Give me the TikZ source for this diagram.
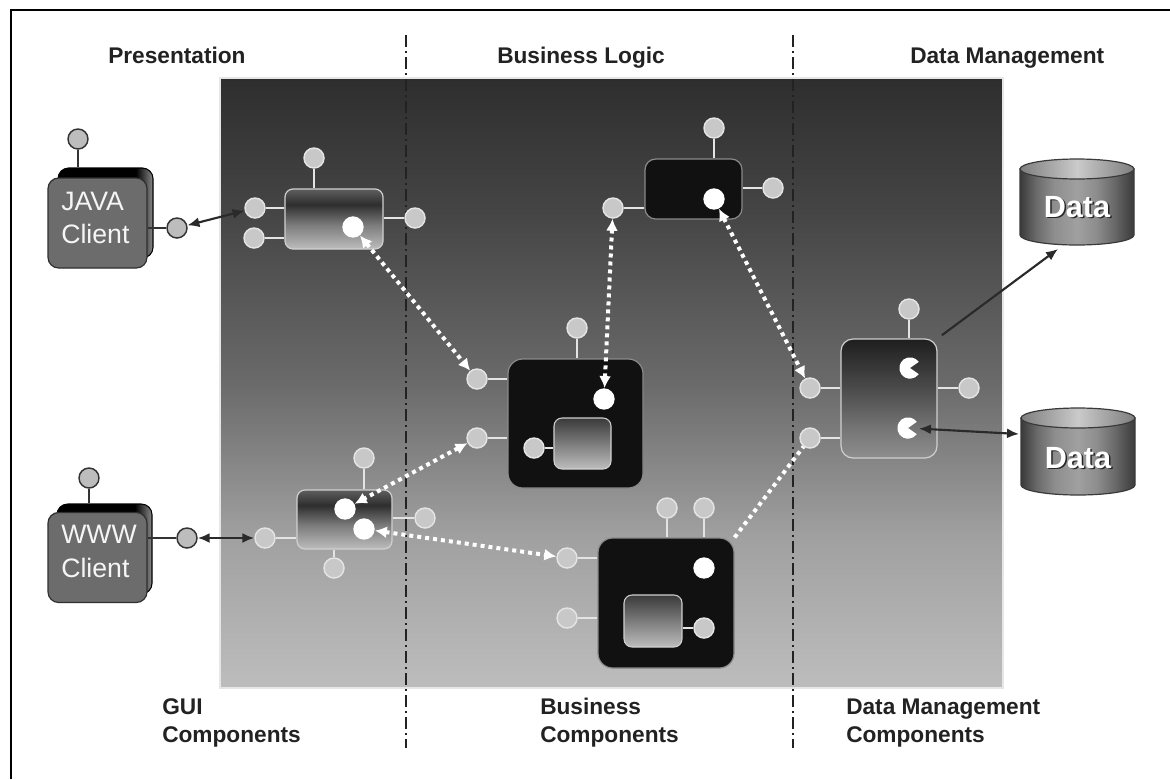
\documentclass[tikz,border=0pt]{standalone}
\usepackage{fontspec}
\setmainfont{Liberation Sans}
\usetikzlibrary{arrows.meta}
\definecolor{ptop}{HTML}{2E2E2E}
\definecolor{pm0}{HTML}{454545}
\definecolor{pm1}{HTML}{6A6A6A}
\definecolor{pm2}{HTML}{A0A0A0}
\definecolor{pbot}{HTML}{BDBDBD}
\definecolor{gtop}{HTML}{5E5E5E}
\definecolor{gdark}{HTML}{2E2E2E}
\definecolor{gmid}{HTML}{7C7C7C}
\definecolor{gbot}{HTML}{BDBDBD}
\definecolor{dm0}{HTML}{1E1E1E}
\definecolor{dm1}{HTML}{3A3A3A}
\definecolor{dm2}{HTML}{555555}
\definecolor{dm3}{HTML}{747474}
\definecolor{dm4}{HTML}{8E8E8E}
\definecolor{c0}{HTML}{3A3A3A}
\definecolor{c1}{HTML}{6A6A6A}
\definecolor{c2}{HTML}{8E8E8E}
\definecolor{c3}{HTML}{A0A0A0}
\definecolor{t0}{HTML}{7E7E7E}
\definecolor{t1}{HTML}{CACACA}
\definecolor{bk0}{HTML}{000000}
\definecolor{bk1}{HTML}{8A8A8A}
\definecolor{itop}{HTML}{3A3A3A}
\definecolor{ibot}{HTML}{BDBDBD}
\definecolor{pinfill}{HTML}{C8C8C8}
\definecolor{pinedge}{HTML}{E4E4E4}
\definecolor{dpinfill}{HTML}{BDBDBD}
\definecolor{dpinedge}{HTML}{333333}
\definecolor{boxedge}{HTML}{D0D0D0}
\definecolor{kfill}{HTML}{111111}
\definecolor{kedge}{HTML}{8A8A8A}
\definecolor{cardfill}{HTML}{6C6C6C}
\definecolor{cardedge}{HTML}{2F2F2F}
\definecolor{hdcol}{HTML}{222222}
\definecolor{divcol}{HTML}{222222}
\definecolor{arrowcol}{HTML}{2A2A2A}
\definecolor{panedge}{HTML}{E6E6E6}
\pgfdeclareverticalshading{panelshade}{100bp}{color(0bp)=(pbot); color(25bp)=(pbot); color(37.5bp)=(pm2); color(50bp)=(pm1); color(64bp)=(pm0); color(75bp)=(ptop); color(100bp)=(ptop)}
\pgfdeclareverticalshading{guishade}{100bp}{color(0bp)=(gbot); color(25bp)=(gbot); color(45bp)=(gmid); color(62bp)=(gdark); color(75bp)=(gtop); color(100bp)=(gtop)}
\pgfdeclareverticalshading{dmshade}{100bp}{color(0bp)=(dm4); color(25bp)=(dm4); color(38bp)=(dm3); color(50bp)=(dm2); color(62bp)=(dm1); color(75bp)=(dm0); color(100bp)=(dm0)}
\pgfdeclarehorizontalshading{cylbody}{100bp}{color(0bp)=(c0); color(25bp)=(c0); color(32bp)=(c1); color(40bp)=(c2); color(50bp)=(c3); color(58bp)=(c2); color(66bp)=(c1); color(75bp)=(c0); color(100bp)=(c0)}
\pgfdeclarehorizontalshading{cyltop}{100bp}{color(0bp)=(t0); color(25bp)=(t0); color(50bp)=(t1); color(75bp)=(t0); color(100bp)=(t0)}
\pgfdeclarehorizontalshading{backshade}{100bp}{color(0bp)=(bk0); color(25bp)=(bk0); color(66bp)=(bk0); color(75bp)=(bk1); color(100bp)=(bk1)}
\begin{document}
\begin{tikzpicture}[x=0.75pt,y=-0.75pt,
  lpin/.style={circle, fill=pinfill, draw=pinedge, line width=1.1pt, minimum size=15pt, inner sep=0pt},
  dpin/.style={circle, fill=dpinfill, draw=dpinedge, line width=1.1pt, minimum size=15pt, inner sep=0pt},
  wdot/.style={circle, fill=white, minimum size=16pt, inner sep=0pt},
  pac/.style={circle, minimum size=16pt, inner sep=0pt},
  lline/.style={draw=pinedge, line width=1.1pt},
  dline/.style={draw=dpinedge, line width=1.1pt},
  gbox/.style={rectangle, rounded corners=6pt, draw=boxedge, line width=0.9pt, shade, shading=guishade, inner sep=0pt},
  kbox/.style={rectangle, rounded corners=8pt, draw=kedge, line width=0.9pt, fill=kfill, inner sep=0pt},
  ibox/.style={rectangle, rounded corners=6pt, draw=boxedge, line width=0.8pt, top color=itop, bottom color=ibot, inner sep=0pt},
  dmbox/.style={rectangle, rounded corners=9pt, draw=boxedge, line width=0.9pt, shade, shading=dmshade, inner sep=0pt},
  backcard/.style={rectangle, rounded corners=8pt, shade, shading=backshade, draw=black, line width=0.8pt, inner sep=0pt},
  frontcard/.style={rectangle, rounded corners=8pt, fill=cardfill, draw=cardedge, line width=0.9pt, inner sep=0pt},
  warrow/.style={draw=white, line width=3pt, dash pattern=on 3pt off 3pt, {Latex[length=9pt,width=9pt]}-{Latex[length=9pt,width=9pt]}},
  wline/.style={draw=white, line width=3pt, dash pattern=on 3pt off 3pt},
  karrow/.style={draw=arrowcol, line width=1.6pt, {Latex[length=9pt,width=7.5pt]}-{Latex[length=9pt,width=7.5pt]}},
  karrowone/.style={draw=arrowcol, line width=1.6pt, -{Latex[length=9pt,width=7.5pt]}},
  divider/.style={draw=divcol, line width=1.3pt, dash pattern=on 9pt off 3pt on 1.5pt off 3pt},
  hd/.style={font=\fontsize{17}{20}\selectfont\bfseries, text=hdcol, inner sep=0pt},
  ct/.style={font=\fontsize{20}{23}\selectfont, text=white!92!gray, inner sep=0pt},
  dt/.style={font=\fontsize{23}{26}\selectfont\bfseries, inner sep=0pt}
]
\useasboundingbox (0,0) rectangle (1170,779);
\fill[white] (0,0) rectangle (1170,779);
\draw[line width=1.5pt, black] (11,779) -- (11,10) -- (1170,10);

% background panel
\shade[shading=panelshade] (220,78) rectangle (1003,688);
\draw[panedge, line width=1pt] (220,78) rectangle (1003,688);

% dividers
\draw[divider] (406,35) -- (406,748);
\draw[divider] (793,35) -- (793,748);

% headings
\node[hd, anchor=base west] (hP) at (108,63) {Presentation};
\node[hd, anchor=base west] (hB) at (497,63) {Business Logic};
\node[hd, anchor=base west] (hD) at (910,63) {Data Management};
\node[hd, anchor=base west] (lG1) at (162,714) {GUI};
\node[hd, anchor=base west] (lG2) at (162,742) {Components};
\node[hd, anchor=base west] (lB1) at (540,714) {Business};
\node[hd, anchor=base west] (lB2) at (540,742) {Components};
\node[hd, anchor=base west] (lD1) at (846,714) {Data Management};
\node[hd, anchor=base west] (lD2) at (846,742) {Components};

% JAVA client
\node[backcard, minimum width=71.25pt, minimum height=67.5pt] (jb) at (105.5,213) {};
\node[frontcard, minimum width=74.25pt, minimum height=67.5pt] (jf) at (97.5,223) {};
\node[ct, anchor=base west] (jt1) at (61,210) {JAVA};
\node[ct, anchor=base west] (jt2) at (61,243) {Client};
\node[dpin] (jtp) at (78,139) {};
\node[dpin] (jrp) at (177,228) {};
\draw[dline] (jtp) -- (jtp |- jb.north);
\draw[dline] (jrp) -- (jrp -| jf.east);

% WWW client
\node[backcard, minimum width=71.25pt, minimum height=67.5pt] (wb) at (104.5,549) {};
\node[frontcard, minimum width=74.25pt, minimum height=67.5pt] (wf) at (97.5,557.5) {};
\node[ct, anchor=base west] (wt1) at (61,543) {WWW};
\node[ct, anchor=base west] (wt2) at (61,577) {Client};
\node[dpin] (wtp) at (89,478) {};
\node[dpin] (wrp) at (187,538) {};
\draw[dline] (wtp) -- (wtp |- wb.north);
\draw[dline] (wrp) -- (wrp -| wf.east);

% GUI component 1
\node[gbox, minimum width=73.5pt, minimum height=45pt] (g1) at (334,219) {};
\node[lpin] (g1t) at (314,158) {};
\node[lpin] (g1l1) at (255,208) {};
\node[lpin] (g1l2) at (254,238) {};
\node[lpin] (g1r) at (415,218) {};
\node[wdot] (g1d) at (353,227) {};
\draw[lline] (g1t) -- (g1t |- g1.north);
\draw[lline] (g1l1) -- (g1l1 -| g1.west);
\draw[lline] (g1l2) -- (g1l2 -| g1.west);
\draw[lline] (g1r) -- (g1r -| g1.east);

% GUI component 2
\node[gbox, minimum width=71.25pt, minimum height=44.25pt] (g2) at (344.5,519.5) {};
\node[lpin] (g2t) at (364,458) {};
\node[lpin] (g2b) at (334,568) {};
\node[lpin] (g2r) at (425,518) {};
\node[lpin] (g2l) at (265,538) {};
\node[wdot] (g2d1) at (345,509) {};
\node[wdot] (g2d2) at (364,529) {};
\draw[lline] (g2t) -- (g2t |- g2.north);
\draw[lline] (g2b) -- (g2b |- g2.south);
\draw[lline] (g2r) -- (g2r -| g2.east);
\draw[lline] (g2l) -- (g2l -| g2.west);

% top business component
\node[kbox, minimum width=72.75pt, minimum height=45pt] (tb) at (693.5,189) {};
\node[lpin] (tt) at (714,128) {};
\node[lpin] (tr) at (773,188) {};
\node[lpin] (tl) at (613,208) {};
\node[wdot] (td) at (714,199) {};
\draw[lline] (tt) -- (tt |- tb.north);
\draw[lline] (tr) -- (tr -| tb.east);
\draw[lline] (tl) -- (tl -| tb.west);

% business component 1
\node[kbox, rounded corners=11pt, minimum width=101.25pt, minimum height=96.75pt] (b1) at (575.5,423.5) {};
\node[ibox, minimum width=42.75pt, minimum height=38.25pt] (b1i) at (582.5,443.5) {};
\node[lpin] (b1t) at (577,328) {};
\node[lpin] (b1l1) at (477,379) {};
\node[lpin] (b1l2) at (477,438) {};
\node[lpin] (b1ip) at (534,448) {};
\node[wdot] (b1d) at (604,399) {};
\draw[lline] (b1t) -- (b1t |- b1.north);
\draw[lline] (b1l1) -- (b1l1 -| b1.west);
\draw[lline] (b1l2) -- (b1l2 -| b1.west);
\draw[lline] (b1ip) -- (b1ip -| b1i.west);

% business component 2
\node[kbox, rounded corners=11pt, minimum width=102pt, minimum height=97.5pt] (b2) at (666,603) {};
\node[ibox, minimum width=43.5pt, minimum height=39pt] (b2i) at (653,621) {};
\node[lpin] (b2t1) at (667,508) {};
\node[lpin] (b2t2) at (704,508) {};
\node[lpin] (b2l1) at (567,558) {};
\node[lpin] (b2l2) at (567,618) {};
\node[lpin] (b2ip) at (704,628) {};
\node[wdot] (b2d) at (704,568) {};
\draw[lline] (b2t1) -- (b2t1 |- b2.north);
\draw[lline] (b2t2) -- (b2t2 |- b2.north);
\draw[lline] (b2l1) -- (b2l1 -| b2.west);
\draw[lline] (b2l2) -- (b2l2 -| b2.west);
\draw[lline] (b2ip) -- (b2ip -| b2i.east);

% data management component
\node[dmbox, minimum width=72pt, minimum height=89.25pt] (dm) at (889,398.5) {};
\node[lpin] (dmt) at (909,309) {};
\node[lpin] (dml1) at (810,388) {};
\node[lpin] (dml2) at (810,438) {};
\node[lpin] (dmr) at (969,388) {};
\node[pac] (dmp1) at (910,368) {};
\node[pac] (dmp2) at (908,428) {};
\fill[white] (dmp1.center) -- ++(35:8pt) arc[start angle=35, end angle=325, radius=8pt] -- cycle;
\fill[white] (dmp2.center) -- ++(35:8pt) arc[start angle=35, end angle=325, radius=8pt] -- cycle;
\draw[lline] (dmt) -- (dmt |- dm.north);
\draw[lline] (dml1) -- (dml1 -| dm.west);
\draw[lline] (dml2) -- (dml2 -| dm.west);
\draw[lline] (dmr) -- (dmr -| dm.east);

% data cylinders
\shade[shading=cylbody, draw=c0, line width=0.9pt] (1020,169) -- (1020,235) arc[start angle=180, end angle=0, x radius=57, y radius=10] -- (1134,169) -- cycle;
\shade[shading=cyltop, draw=c0, line width=0.9pt] (1077,169) ellipse [x radius=57, y radius=10];
\node[dt, text=black!85] (d1s) at (1078.5,208.5) {Data};
\node[dt, text=white] (d1) at (1077,207) {Data};
\coordinate (c1bot) at (1058,249);

\shade[shading=cylbody, draw=c0, line width=0.9pt] (1021,418) -- (1021,485) arc[start angle=180, end angle=0, x radius=57, y radius=10] -- (1135,418) -- cycle;
\shade[shading=cyltop, draw=c0, line width=0.9pt] (1078,418) ellipse [x radius=57, y radius=10];
\node[dt, text=black!85] (d2s) at (1079.5,459.5) {Data};
\node[dt, text=white] (d2) at (1078,458) {Data};
\coordinate (c2left) at (1019,434);

% solid connectors
\draw[karrow] (jrp) -- (g1l1);
\draw[karrow] (wrp) -- (g2l);
\draw[karrowone, shorten <=4pt] (dm.north east) -- (c1bot);
\draw[karrow] (dmp2) -- (c2left);

% dotted connectors
\draw[warrow] (g1d) -- (b1l1);
\draw[warrow] (b1l2) -- (g2d1);
\draw[warrow] (g2d2) -- (b2l1);
\draw[wline] (b2.north east) -- (dml2);
\draw[warrow] (td) -- (dml1);
\draw[warrow] (tl) -- (b1d);
\end{tikzpicture}
\end{document}
